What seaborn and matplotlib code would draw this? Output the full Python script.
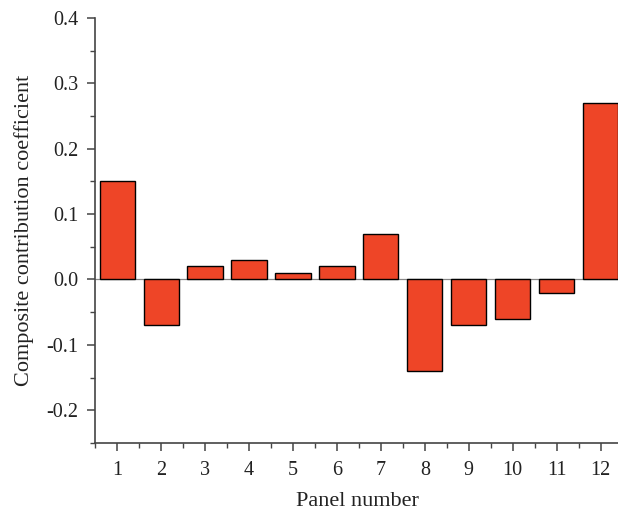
import matplotlib
matplotlib.use("Agg")
import matplotlib.pyplot as plt
import seaborn as sns
import pandas as pd
from matplotlib.ticker import MultipleLocator

panels = [1, 2, 3, 4, 5, 6, 7, 8, 9, 10, 11, 12]
coefficients = [0.15, -0.07, 0.02, 0.03, 0.01, 0.02, 0.07, -0.14, -0.07, -0.06, -0.02, 0.27]

df = pd.DataFrame({"panel": panels, "coef": coefficients})

sns.set_style("ticks")
plt.rcParams["font.family"] = ["Liberation Serif", "DejaVu Serif"]

fig = plt.figure(figsize=(6.18, 5.15), dpi=100)
ax = fig.add_axes([0.154, 0.14, 0.85, 0.825])

ax.axhline(0, color="#888888", lw=0.9, zorder=0)
sns.barplot(data=df, x="panel", y="coef", native_scale=True, width=0.8,
            color="#EE4527", saturation=1, edgecolor="black", linewidth=1.0, ax=ax, zorder=2)

ax.set_xlim(0.5, 12.45)
ax.set_ylim(-0.25, 0.4)
ax.xaxis.set_major_locator(MultipleLocator(1))
ax.xaxis.set_minor_locator(MultipleLocator(0.5))
ax.yaxis.set_major_locator(MultipleLocator(0.1))
ax.yaxis.set_minor_locator(MultipleLocator(0.05))
ax.set_yticks([-0.2, -0.1, 0.0, 0.1, 0.2, 0.3, 0.4])
ax.set_yticklabels(["-0.2", "-0.1", "0.0", "0.1", "0.2", "0.3", "0.4"])

for s in ["top", "right"]:
    ax.spines[s].set_visible(False)
for s in ["left", "bottom"]:
    ax.spines[s].set_color("#444444")
    ax.spines[s].set_linewidth(1.2)

ax.tick_params(which="major", length=6, width=1.1, color="#444444", labelsize=14.5, labelcolor="#222222", direction="out")
ax.tick_params(which="minor", length=3.5, width=1.0, color="#444444", direction="out")
ax.tick_params(axis="y", pad=6)
ax.tick_params(axis="x", pad=7)

ax.set_xlabel("Panel number", fontsize=16, color="#222222", labelpad=9)
ax.set_ylabel("Composite contribution coefficient", fontsize=16, color="#222222", labelpad=9)

fig.savefig("out.png", dpi=100)
